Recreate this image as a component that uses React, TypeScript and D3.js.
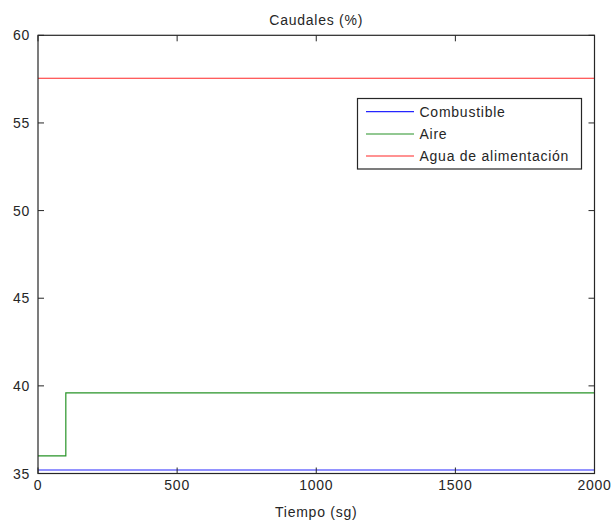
import React from "react";
import * as d3 from "d3";

// Flow rates over time (%)
const tiempo = [0, 100, 2000];
const combustible = [35.2, 35.2, 35.2];
const aire = [36.0, 39.6, 39.6];
const agua = [57.55, 57.55, 57.55];

const seriesNames = ["Combustible", "Aire", "Agua de alimentación"];
const seriesColors = ["#0000ff", "#008000", "#ff0000"];

const xTicks = [0, 500, 1000, 1500, 2000];
const yTicks = [35, 40, 45, 50, 55, 60];

const W = 613;
const H = 525;
const left = 38;
const right = 594.5;
const top = 35.3;
const bottom = 473.5;

const font = "'Liberation Sans', Arial, Helvetica, sans-serif";

export default function App() {
  const x = d3.scaleLinear().domain([0, 2000]).range([left, right]);
  const y = d3.scaleLinear().domain([35, 60]).range([bottom, top]);

  const line = d3
    .line<[number, number]>()
    .x((d) => x(d[0]))
    .y((d) => y(d[1]))
    .curve(d3.curveStepAfter);

  const series = [combustible, aire, agua].map((vals) =>
    tiempo.map((t, i) => [t, vals[i]] as [number, number])
  );

  const tickLen = 6;
  const axisColor = "#262626";
  const textStyle = { fontFamily: font, fontSize: 14, letterSpacing: 0.75, fill: "#262626" } as const;

  const legX0 = 357.5;
  const legX1 = 581.5;
  const legY0 = 98.5;
  const legY1 = 169;
  const legRows = [111.7, 134, 156];

  return (
    <svg
      width={W}
      height={H}
      style={{ position: "absolute", left: 0, top: 0, background: "#fff" }}
    >
      <rect x={0} y={0} width={W} height={H} fill="#fff" />

      {/* data lines */}
      {series.map((s, i) => (
        <path
          key={i}
          d={line(s) || ""}
          fill="none"
          stroke={seriesColors[i]}
          strokeWidth={1.2}
          opacity={0.85}
        />
      ))}

      {/* axes box */}
      <rect
        x={left}
        y={top}
        width={right - left}
        height={bottom - top}
        fill="none"
        stroke={axisColor}
        strokeWidth={1.2}
      />

      {/* x ticks (bottom and top, pointing inward) */}
      {xTicks.map((t) => (
        <g key={"x" + t}>
          <line x1={x(t)} x2={x(t)} y1={bottom} y2={bottom - tickLen} stroke={axisColor} />
          <line x1={x(t)} x2={x(t)} y1={top} y2={top + tickLen} stroke={axisColor} />
          <text x={x(t)} y={490} textAnchor="middle" {...textStyle}>
            {t}
          </text>
        </g>
      ))}

      {/* y ticks (left and right, pointing inward) */}
      {yTicks.map((t) => (
        <g key={"y" + t}>
          <line x1={left} x2={left + tickLen} y1={y(t)} y2={y(t)} stroke={axisColor} />
          <line x1={right} x2={right - tickLen} y1={y(t)} y2={y(t)} stroke={axisColor} />
          <text x={30} y={y(t) + 5} textAnchor="end" {...textStyle}>
            {t}
          </text>
        </g>
      ))}

      {/* title and axis label */}
      <text x={(left + right) / 2} y={25} textAnchor="middle" {...textStyle}>
        Caudales (%)
      </text>
      <text x={(left + right) / 2} y={516.5} textAnchor="middle" {...textStyle}>
        Tiempo (sg)
      </text>

      {/* legend */}
      <rect
        x={legX0}
        y={legY0}
        width={legX1 - legX0}
        height={legY1 - legY0}
        fill="#fff"
        stroke={axisColor}
        strokeWidth={1.2}
      />
      {seriesNames.map((name, i) => (
        <g key={name}>
          <line
            x1={366}
            x2={414}
            y1={legRows[i]}
            y2={legRows[i]}
            stroke={seriesColors[i]}
            strokeWidth={1.2}
            opacity={0.85}
          />
          <text x={419.5} y={legRows[i] + 5} {...textStyle}>
            {name}
          </text>
        </g>
      ))}
    </svg>
  );
}
